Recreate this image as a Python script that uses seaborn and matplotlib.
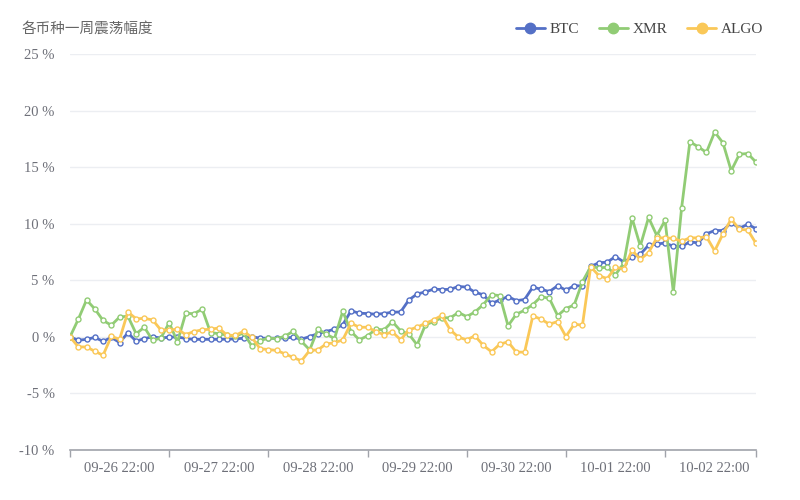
import seaborn as sns
import matplotlib.pyplot as plt
from matplotlib.lines import Line2D
import pandas as pd

# 2-hour samples, 09-26 10:00 .. 10-03 08:00
btc = [0, -0.3, -0.22, -0.05, -0.4, -0.05, -0.5, 0.35, -0.38, -0.15,
       0, -0.1, -0.03, 0, -0.15, -0.22, -0.22, -0.22, -0.22, -0.2,
       -0.18, -0.12, 0.02, -0.12, -0.12, -0.12, -0.08, -0.05, -0.2, 0.02,
       0.29, 0.47, 0.68, 1.07, 2.3, 2.09, 2.06, 2.0, 2.06, 2.18,
       2.2, 3.26, 3.79, 3.97, 4.22, 4.18, 4.2, 4.45, 4.4, 3.94,
       3.72, 2.95, 3.26, 3.56, 3.2, 3.3, 4.4, 4.2, 4.0, 4.52,
       4.12, 4.52, 4.5, 6.22, 6.55, 6.6, 7.1, 6.62, 7.05, 7.3,
       8.1, 8.2, 8.3, 8.0, 8.0, 8.4, 8.3, 9.1, 9.4, 9.4,
       10.1, 9.6, 9.95, 9.56]
xmr = [0, 1.55, 3.26, 2.47, 1.45, 1.03, 1.75, 1.83, 0.28, 0.85,
       -0.32, -0.1, 1.25, -0.45, 2.08, 2.05, 2.45, 0.38, 0.28, 0.16,
       0.05, 0.35, -0.82, -0.33, -0.12, -0.15, 0.05, 0.5, -0.4, -1.15,
       0.68, 0.24, -0.15, 2.26, 0.47, -0.26, 0.09, 0.68, 0.62, 1.35,
       0.53, 0.24, -0.71, 1.06, 1.35, 1.7, 1.68, 2.15, 1.79, 2.2,
       2.85, 3.72, 3.65, 0.98, 2.0, 2.35, 2.85, 3.56, 3.4, 1.88,
       2.5, 2.82, 4.87, 6.2, 6.1, 6.15, 5.5, 6.5, 10.5, 8.03,
       10.55, 8.95, 10.3, 3.95, 11.4, 17.24, 16.8, 16.3, 18.1, 17.15,
       14.68, 16.15, 16.2, 15.44]
algo = [0, -0.88, -0.9, -1.27, -1.63, 0.05, -0.22, 2.2, 1.6, 1.63,
        1.5, 0.6, 0.6, 0.68, 0.2, 0.47, 0.62, 0.68, 0.78, 0.15,
        0.12, 0.5, -0.05, -1.05, -1.12, -1.2, -1.5, -1.82, -2.12, -1.2,
        -1.15, -0.62, -0.53, -0.26, 1.2, 0.85, 0.85, 0.47, 0.2, 0.44,
        -0.26, 0.62, 0.85, 1.2, 1.5, 1.9, 0.62, -0.03, -0.26, 0.09,
        -0.75, -1.32, -0.65, -0.44, -1.35, -1.35, 1.85, 1.56, 1.12, 1.35,
        0.03, 1.12, 1.03, 6.2, 5.4, 5.15, 6.15, 6.0, 7.65, 6.85,
        7.45, 8.75, 8.75, 8.7, 8.45, 8.75, 8.75, 8.85, 7.6, 9.1,
        10.4, 9.5, 9.45, 8.26]

coins = ["BTC", "XMR", "ALGO"]
colors = ["#5470c6", "#91cc75", "#fac858"]
day_labels = ["09-26 22:00", "09-27 22:00", "09-28 22:00", "09-29 22:00",
              "09-30 22:00", "10-01 22:00", "10-02 22:00"]
y_ticks = [-10, -5, 0, 5, 10, 15, 20, 25]

n = len(btc)
df = pd.DataFrame({"idx": list(range(n)) * 3,
                   "val": btc + xmr + algo,
                   "coin": [c for c in coins for _ in range(n)]})

sns.set_theme(style="white")
plt.rcParams["font.family"] = ["Liberation Serif", "Noto Sans CJK SC"]

fig = plt.figure(figsize=(8, 5), dpi=100)
ax = fig.add_axes([70 / 800, 50 / 500, 686 / 800, 396 / 500])

for coin, col in zip(coins, colors):
    sns.lineplot(data=df[df["coin"] == coin], x="idx", y="val", ax=ax,
                 color=col, lw=2, marker="o", markersize=3.6,
                 markerfacecolor="white", markeredgecolor=col,
                 markeredgewidth=1, legend=False, zorder=3)

ax.set_xlim(0, n - 1)
ax.set_ylim(-10, 25)
ax.set_yticks(y_ticks)
ax.set_yticklabels([f"{v} %" for v in y_ticks])
ax.yaxis.grid(True, color="#ECEEF2", lw=1)
ax.xaxis.grid(False)

ax.set_xticks(list(range(0, n - 1, 12)) + [n - 1])
ax.set_xticklabels([])
ax.set_xticks([6 + 12 * k for k in range(len(day_labels))], day_labels, minor=True)
ax.tick_params(axis="x", which="major", bottom=True, length=5, width=1,
               color="#A0A3AA", direction="out")
ax.tick_params(axis="x", which="minor", bottom=True, length=0, pad=9,
               labelsize=10.5, labelcolor="#6E7079")
ax.tick_params(axis="y", length=0, pad=11, labelsize=10.5, labelcolor="#6E7079")

for s in ["left", "right", "top"]:
    ax.spines[s].set_visible(False)
ax.spines["bottom"].set_color("#A0A3AA")
ax.spines["bottom"].set_linewidth(1.2)
ax.set_xlabel("")
ax.set_ylabel("")

fig.text(22 / 800, 1 - 29 / 500, "各币种一周震荡幅度", fontsize=10.5, color="#666666",
         family=["Noto Sans CJK SC", "DejaVu Sans"], va="center", ha="left")

handles = [Line2D([], [], color=c, lw=2, marker="o", markersize=7.5,
                  markerfacecolor=c, markeredgecolor=c) for c in colors]
fig.legend(handles, coins, loc="center right", bbox_to_anchor=(777 / 800, 1 - 29 / 500),
           ncol=3, frameon=False, fontsize=11, handlelength=1.9, handletextpad=0.3,
           columnspacing=1.3, labelcolor="#444444")

fig.savefig("out.png", dpi=100)
